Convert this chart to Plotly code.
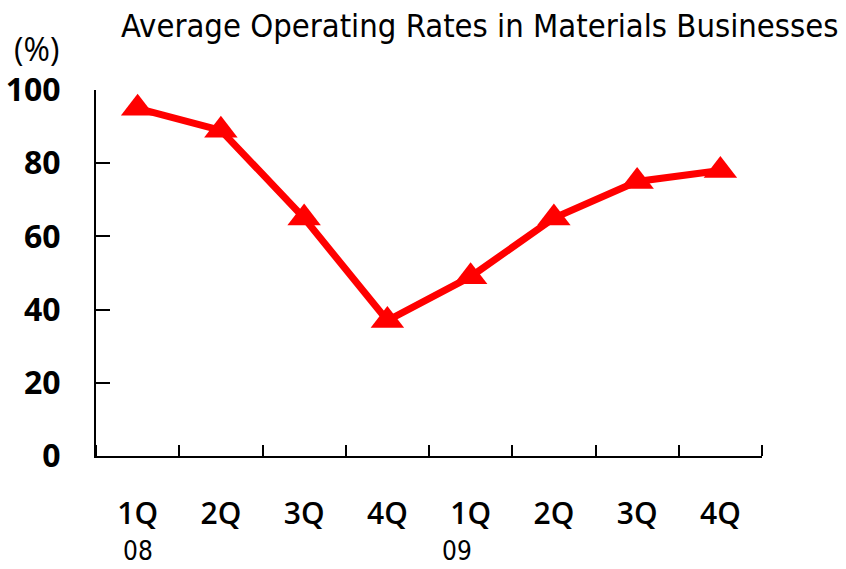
import plotly.graph_objects as go

quarters = ["1Q", "2Q", "3Q", "4Q", "1Q", "2Q", "3Q", "4Q"]
rates = [95, 89, 65, 37, 49, 65, 75, 78]
y_ticks = [0, 20, 40, 60, 80, 100]
year_labels = ["08", "09"]
year_positions = [0, 4]

x_idx = list(range(len(quarters)))
NARROW = "DejaVu Sans Condensed, Roboto, sans-serif"

fig = go.Figure()
fig.add_trace(go.Scatter(
    x=x_idx, y=rates, mode="lines+markers",
    line=dict(color="#ff0000", width=7),
    marker=dict(symbol="triangle-up", size=29, color="#ff0000"),
    showlegend=False, cliponaxis=False,
))

fig.update_layout(
    width=846, height=569,
    margin=dict(l=96, r=84, t=90, b=113),
    plot_bgcolor="white", paper_bgcolor="white",
    title=dict(
        text="Average Operating Rates in Materials Businesses",
        x=121 / 846, xanchor="left", y=1 - 26 / 569, yanchor="middle",
        font=dict(family=NARROW, size=32.5, color="black"),
    ),
    xaxis=dict(
        range=[-0.5, 7.5], tickvals=x_idx, ticktext=quarters,
        ticks="", showline=True, linecolor="black", linewidth=2,
        showgrid=False, zeroline=False, ticklabelstandoff=30,
        tickfont=dict(family="Open Sans", size=30, color="black", weight=600),
        minor=dict(tick0=-0.5, dtick=1, ticks="inside", ticklen=11,
                   tickwidth=2, tickcolor="black", showgrid=False),
        automargin=False, fixedrange=True,
    ),
    yaxis=dict(
        range=[0, 100], tickvals=y_ticks,
        ticks="inside", ticklen=14, tickwidth=2, tickcolor="black",
        showline=True, linecolor="black", linewidth=2,
        showgrid=False, zeroline=False, ticklabelstandoff=27,
        tickfont=dict(family="Open Sans", size=32, color="black", weight=700),
        automargin=False, fixedrange=True,
    ),
)

fig.add_annotation(
    text="(%)", xref="paper", yref="paper", x=(36 - 96) / 666, y=1 + (90 - 48) / 366,
    showarrow=False, xanchor="center", yanchor="middle",
    font=dict(family="Open Sans", size=32, color="black", weight=500),
)

for lbl, pos in zip(year_labels, year_positions):
    fig.add_annotation(
        text=lbl, x=pos, xref="x", y=0, yref="y", yshift=-95,
        xshift=0 if pos == 0 else -14,
        showarrow=False, xanchor="center", yanchor="middle",
        font=dict(family=NARROW, size=26, color="black"),
    )

fig.write_html("out.html")
